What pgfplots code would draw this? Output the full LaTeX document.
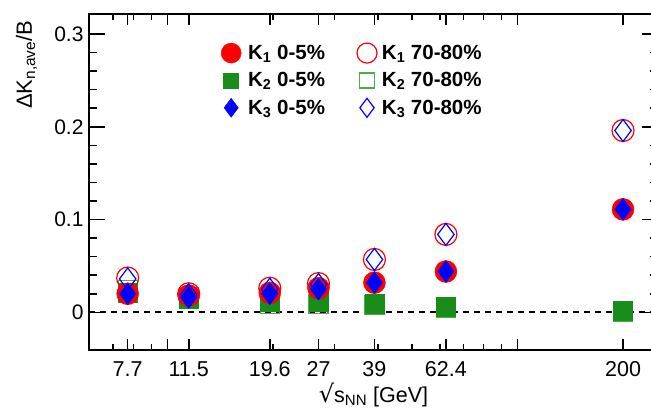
\documentclass[border=0pt]{standalone}
\usepackage{fontspec}
\setmainfont{Liberation Sans}
\newfontfamily\dejavu{DejaVu Sans}
\usepackage{pgfplots}
\usepackage{pgfplotstable}
\pgfplotsset{compat=1.18}
\definecolor{myred}{RGB}{255,0,0}
\definecolor{mygreen}{RGB}{25,140,25}
\definecolor{mygreenl}{RGB}{70,175,70}
\definecolor{myblue}{RGB}{0,0,255}

\pgfplotstableread{
x    K1c   K1p   K2c   K2p   K3c   K3p
7.7  0.020 0.037 0.021 0.024 0.020 0.036
11.5 0.018 0.020 0.015 0.016 0.016 0.019
19.6 0.021 0.026 0.011 0.009 0.020 0.025
27   0.026 0.031 0.012 0.009 0.025 0.030
39   0.032 0.057 0.009 0.008 0.032 0.057
62.4 0.044 0.084 0.006 0.005 0.044 0.084
200  0.111 0.196 0.002 0.001 0.111 0.196
}\datatable

\begin{document}
\begin{tikzpicture}
\begin{axis}[
  scale only axis, width=569bp, height=336bp,
  xmode=log, log basis x=10,
  xmin=5.97, xmax=251.7, ymin=-0.0406, ymax=0.3216,
  xtick={10,100}, xticklabels={,},
  minor xtick={7,8,9,20,30,40,50,60,70,80,90,200},
  extra x ticks={7.7,11.5,19.6,27,39,62.4,200},
  extra x tick labels={7.7,11.5,19.6,27,39,62.4,200},
  extra x tick style={major tick length=0pt},
  ytick={0,0.1,0.2,0.3}, yticklabels={0,0.1,0.2,0.3},
  minor y tick num=4,
  tick align=inside,
  major tick length=16bp, minor tick length=8bp,
  xtick style={/pgfplots/major tick length=11bp,/pgfplots/minor tick length=6bp},
  every tick/.style={black, line width=1.6bp},
  axis line style={line width=2bp},
  xticklabel style={font=\fontsize{21.5bp}{24bp}\selectfont, anchor=base, yshift=-26bp},
  yticklabel style={font=\fontsize{21bp}{24bp}\selectfont, xshift=-2bp},
  xlabel={{\dejavu\fontsize{24bp}{24bp}\selectfont √}s\textsubscript{NN} [GeV]},
  xlabel style={font=\fontsize{21.5bp}{24bp}\selectfont, at={(axis description cs:0.5,0)}, anchor=base, yshift=-52bp},
  ylabel={ΔK\textsubscript{n,ave}/B},
  ylabel style={font=\fontsize{22bp}{24bp}\selectfont, at={(axis description cs:-0.1002,0.991)}, anchor=base east},
  legend columns=2,
  legend style={at={(axis description cs:0.2267,0.92)}, anchor=north west, draw=none, fill=none,
    font=\fontsize{20.5bp}{24bp}\selectfont\bfseries, row sep=7.5bp,
    /tikz/every even column/.append style={column sep=30bp}},
  legend cell align=left,
]
% data, drawn in z-order
\addplot[only marks, mark=square, mark size=9.5bp, mygreenl, line width=1.2bp, forget plot] table[x=x,y=K2p]{\datatable};
\addplot[only marks, mark=square*, mark size=9.5bp, mygreen, forget plot] table[x=x,y=K2c]{\datatable};
\addplot[only marks, mark=*, mark size=11bp, myred, forget plot] table[x=x,y=K1c]{\datatable};
\addplot[only marks, mark=o, mark size=11bp, myred, line width=1.2bp, forget plot] table[x=x,y=K1p]{\datatable};
\addplot[only marks, mark=diamond*, mark size=11bp, myblue, forget plot] table[x=x,y=K3c]{\datatable};
\addplot[only marks, mark=diamond, mark size=11bp, myblue, line width=1.2bp, forget plot] table[x=x,y=K3p]{\datatable};
\addplot[black, line width=1.8bp, dash pattern=on 6bp off 5bp, forget plot] coordinates {(5.97,0) (251.7,0)};
% legend
\addlegendimage{only marks, mark=*, mark size=10bp, myred}
\addlegendentry{\hspace{5bp}K\textsubscript{1} 0-5\%}
\addlegendimage{only marks, mark=o, mark size=10bp, myred, line width=1.2bp}
\addlegendentry{\hspace{3bp}K\textsubscript{1} 70-80\%}
\addlegendimage{only marks, mark=square*, mark size=7.5bp, mygreen}
\addlegendentry{\hspace{5bp}K\textsubscript{2} 0-5\%}
\addlegendimage{only marks, mark=square, mark size=7.5bp, mygreenl, line width=1.2bp}
\addlegendentry{\hspace{3bp}K\textsubscript{2} 70-80\%}
\addlegendimage{only marks, mark=diamond*, mark size=9.5bp, myblue}
\addlegendentry{\hspace{5bp}K\textsubscript{3} 0-5\%}
\addlegendimage{only marks, mark=diamond, mark size=9.5bp, myblue, line width=1.2bp}
\addlegendentry{\hspace{3bp}K\textsubscript{3} 70-80\%}
\end{axis}
\pgfresetboundingbox
\path ([shift={(-89bp,-58bp)}]current axis.south west) rectangle ([shift={(562bp,350bp)}]current axis.south west);
\end{tikzpicture}
\end{document}
